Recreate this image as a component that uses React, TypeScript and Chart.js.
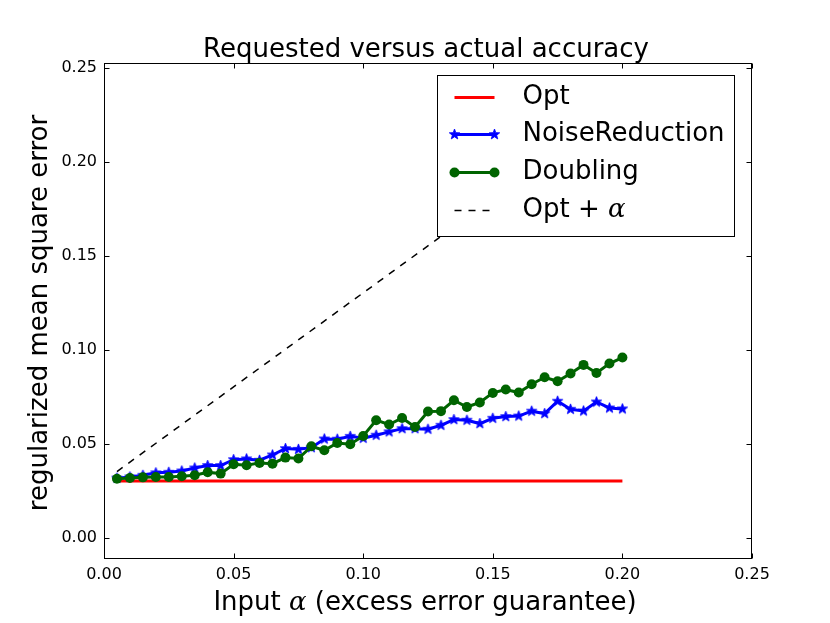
import { useEffect, useRef } from "react";
import { Chart, registerables } from "chart.js";
Chart.register(...registerables);

const alphas = [
  0.005, 0.01, 0.015, 0.02, 0.025, 0.03, 0.035, 0.04, 0.045, 0.05,
  0.055, 0.06, 0.065, 0.07, 0.075, 0.08, 0.085, 0.09, 0.095, 0.1,
  0.105, 0.11, 0.115, 0.12, 0.125, 0.13, 0.135, 0.14, 0.145, 0.15,
  0.155, 0.16, 0.165, 0.17, 0.175, 0.18, 0.185, 0.19, 0.195, 0.2,
];
const noiseReduction = [
  0.032, 0.0326, 0.0335, 0.0348, 0.0351, 0.0358, 0.0374, 0.0387, 0.0387, 0.0418,
  0.0422, 0.0415, 0.0443, 0.0477, 0.0473, 0.0482, 0.0528, 0.0527, 0.0542, 0.0532,
  0.0548, 0.0566, 0.0583, 0.0583, 0.058, 0.0601, 0.0631, 0.0628, 0.061, 0.0638,
  0.0647, 0.065, 0.0676, 0.0663, 0.0729, 0.0686, 0.0677, 0.0725, 0.0693, 0.0688,
];
const doubling = [
  0.0317, 0.0321, 0.0324, 0.0326, 0.0326, 0.033, 0.0335, 0.0351, 0.0344, 0.0394,
  0.0388, 0.0401, 0.0397, 0.0429, 0.0424, 0.0489, 0.0468, 0.0507, 0.05, 0.0544,
  0.0628, 0.0605, 0.064, 0.0592, 0.0674, 0.0676, 0.0734, 0.0698, 0.0722, 0.0773,
  0.0791, 0.0775, 0.0819, 0.0856, 0.0835, 0.0876, 0.0922, 0.0879, 0.0929, 0.0961,
];
const optX = [0.005, 0.2];
const optY = [0.0305, 0.0305];
const optPlusAlphaX = [0.005, 0.2];
const optPlusAlphaY = [0.0355, 0.2305];
const xTicks = [0, 0.05, 0.1, 0.15, 0.2, 0.25];
const yTicks = [0, 0.05, 0.1, 0.15, 0.2, 0.25];
const legendLabels = ["Opt", "NoiseReduction", "Doubling", "Opt + "];

const RED = "#ff0000";
const BLUE = "#0000ff";
const GREEN = "#006400";
const FONT = "'DejaVu Sans', sans-serif";
const ALPHA_FONT = "italic 26px 'DejaVu Serif', serif";

function makeStar(color: string, r: number) {
  const c = document.createElement("canvas");
  const s = Math.ceil(r * 2 + 2);
  c.width = s;
  c.height = s;
  const g = c.getContext("2d")!;
  g.beginPath();
  for (let i = 0; i < 10; i++) {
    const ang = -Math.PI / 2 + (i * Math.PI) / 5;
    const rr = i % 2 === 0 ? r : r * 0.42;
    const px = s / 2 + rr * Math.cos(ang);
    const py = s / 2 + rr * Math.sin(ang);
    if (i === 0) g.moveTo(px, py);
    else g.lineTo(px, py);
  }
  g.closePath();
  g.fillStyle = color;
  g.fill();
  g.strokeStyle = color;
  g.lineWidth = 0.8;
  g.stroke();
  return c;
}

export default function App() {
  const ref = useRef<HTMLCanvasElement | null>(null);
  useEffect(() => {
    document.body.style.margin = "0";
    const star = makeStar(BLUE, 5.5);
    const decor = {
      id: "decor",
      afterDraw(chart: any) {
        const { ctx, chartArea: a, scales } = chart;
        const x = scales.x;
        const y = scales.y;
        ctx.save();
        // frame
        ctx.strokeStyle = "#000";
        ctx.lineWidth = 1;
        const L = Math.round(a.left) + 0.5;
        const R = Math.round(a.right) - 0.5;
        const T = Math.round(a.top) + 0.5;
        const B = Math.round(a.bottom) - 0.5;
        ctx.strokeRect(L, T, R - L, B - T);
        // inner ticks
        ctx.beginPath();
        xTicks.forEach((v) => {
          const px = Math.round(x.getPixelForValue(v)) + 0.5;
          ctx.moveTo(px, B);
          ctx.lineTo(px, B - 5);
          ctx.moveTo(px, T);
          ctx.lineTo(px, T + 5);
        });
        yTicks.forEach((v) => {
          const py = Math.round(y.getPixelForValue(v)) + 0.5;
          ctx.moveTo(L, py);
          ctx.lineTo(L + 5, py);
          ctx.moveTo(R, py);
          ctx.lineTo(R - 5, py);
        });
        ctx.stroke();

        // legend
        const lw = 297;
        const lh = 161;
        const lx = Math.round(a.right - 18 - lw) + 0.5;
        const ly = Math.round(a.top + 12) + 0.5;
        ctx.fillStyle = "#fff";
        ctx.fillRect(lx, ly, lw, lh);
        ctx.strokeStyle = "#000";
        ctx.lineWidth = 1;
        ctx.strokeRect(lx, ly, lw, lh);
        const rows = [ly + 22, ly + 59, ly + 97, ly + 135];
        const sx0 = lx + 17;
        const sx1 = lx + 57;
        const tx = lx + 85;
        ctx.textBaseline = "middle";
        ctx.textAlign = "left";
        // Opt
        ctx.strokeStyle = RED;
        ctx.lineWidth = 3;
        ctx.beginPath();
        ctx.moveTo(sx0, rows[0]);
        ctx.lineTo(sx1, rows[0]);
        ctx.stroke();
        // NoiseReduction
        ctx.strokeStyle = BLUE;
        ctx.beginPath();
        ctx.moveTo(sx0, rows[1]);
        ctx.lineTo(sx1, rows[1]);
        ctx.stroke();
        ctx.drawImage(star, sx0 - star.width / 2, rows[1] - star.height / 2);
        ctx.drawImage(star, sx1 - star.width / 2, rows[1] - star.height / 2);
        // Doubling
        ctx.strokeStyle = GREEN;
        ctx.beginPath();
        ctx.moveTo(sx0, rows[2]);
        ctx.lineTo(sx1, rows[2]);
        ctx.stroke();
        ctx.fillStyle = GREEN;
        [sx0, sx1].forEach((px) => {
          ctx.beginPath();
          ctx.arc(px, rows[2], 5, 0, Math.PI * 2);
          ctx.fill();
        });
        // Opt + alpha
        ctx.strokeStyle = "#000";
        ctx.lineWidth = 1.5;
        ctx.setLineDash([7, 7]);
        ctx.beginPath();
        ctx.moveTo(sx0, rows[3]);
        ctx.lineTo(sx1, rows[3]);
        ctx.stroke();
        ctx.setLineDash([]);
        ctx.fillStyle = "#000";
        legendLabels.forEach((t, i) => {
          ctx.font = `26px ${FONT}`;
          ctx.fillText(t, tx, rows[i]);
          if (i === 3) {
            const w = ctx.measureText(t).width;
            ctx.font = ALPHA_FONT;
            ctx.fillText("α", tx + w, rows[i]);
          }
        });

        // title
        const cx = (a.left + a.right) / 2;
        ctx.textAlign = "center";
        ctx.textBaseline = "alphabetic";
        ctx.font = `26px ${FONT}`;
        ctx.fillText("Requested versus actual accuracy", cx - 2, 57);

        // x axis title
        ctx.font = `26px ${FONT}`;
        const p1 = "Input ";
        const p3 = " (excess error guarantee)";
        const w1 = ctx.measureText(p1).width;
        const w3 = ctx.measureText(p3).width;
        ctx.font = ALPHA_FONT;
        const w2 = ctx.measureText("α").width;
        const total = w1 + w2 + w3;
        let sx = cx - 3 - total / 2;
        ctx.textAlign = "left";
        ctx.font = `26px ${FONT}`;
        ctx.fillText(p1, sx, 610);
        sx += w1;
        ctx.font = ALPHA_FONT;
        ctx.fillText("α", sx, 610);
        sx += w2;
        ctx.font = `26px ${FONT}`;
        ctx.fillText(p3, sx, 610);

        // y axis title
        ctx.save();
        ctx.translate(47, (a.top + a.bottom) / 2 + 2);
        ctx.rotate(-Math.PI / 2);
        ctx.textAlign = "center";
        ctx.textBaseline = "alphabetic";
        ctx.font = `26px ${FONT}`;
        ctx.fillText("regularized mean square error", 0, 0);
        ctx.restore();

        ctx.restore();
      },
    };

    const chart = new Chart(ref.current!, {
      type: "line",
      data: {
        datasets: [
          {
            label: "Opt",
            data: optX.map((v, i) => ({ x: v, y: optY[i] })),
            borderColor: RED,
            borderWidth: 3,
            pointRadius: 0,
            order: 2,
          },
          {
            label: "NoiseReduction",
            data: alphas.map((v, i) => ({ x: v, y: noiseReduction[i] })),
            borderColor: BLUE,
            backgroundColor: BLUE,
            borderWidth: 3,
            pointStyle: star as any,
            pointRadius: 5,
            order: 1,
          },
          {
            label: "Doubling",
            data: alphas.map((v, i) => ({ x: v, y: doubling[i] })),
            borderColor: GREEN,
            backgroundColor: GREEN,
            borderWidth: 3,
            pointStyle: "circle",
            pointRadius: 5,
            pointBorderWidth: 0,
            order: 0,
          },
          {
            label: "Opt + α",
            data: optPlusAlphaX.map((v, i) => ({ x: v, y: optPlusAlphaY[i] })),
            borderColor: "#000",
            borderWidth: 1.5,
            borderDash: [7, 7],
            pointRadius: 0,
            order: 3,
          },
        ],
      },
      options: {
        responsive: false,
        animation: false,
        devicePixelRatio: 1,
        layout: { padding: { top: 63, right: 78, left: 0, bottom: 0 } },
        plugins: {
          legend: { display: false },
          title: { display: false },
          tooltip: { enabled: false },
        },
        elements: { line: { tension: 0 } },
        scales: {
          x: {
            type: "linear",
            min: 0,
            max: 0.25,
            afterFit: (s: any) => {
              s.height = 64;
            },
            afterBuildTicks: (s: any) => {
              s.ticks = xTicks.map((v) => ({ value: v }));
            },
            grid: { display: false, drawTicks: false },
            border: { display: false },
            ticks: {
              padding: 6,
              color: "#000",
              font: { family: FONT, size: 16 },
              maxRotation: 0,
              autoSkip: false,
              callback: (v: any) => Number(v).toFixed(2),
            },
          },
          y: {
            type: "linear",
            min: -0.011,
            max: 0.2527,
            afterFit: (s: any) => {
              s.width = 104;
            },
            afterBuildTicks: (s: any) => {
              s.ticks = yTicks.map((v) => ({ value: v }));
            },
            grid: { display: false, drawTicks: false },
            border: { display: false },
            ticks: {
              padding: 7,
              color: "#000",
              font: { family: FONT, size: 16 },
              autoSkip: false,
              callback: (v: any) => Number(v).toFixed(2),
            },
          },
        },
      },
      plugins: [decor],
    });
    return () => chart.destroy();
  }, []);
  return (
    <div style={{ width: 830, height: 623 }}>
      <canvas ref={ref} width={830} height={623} />
    </div>
  );
}
